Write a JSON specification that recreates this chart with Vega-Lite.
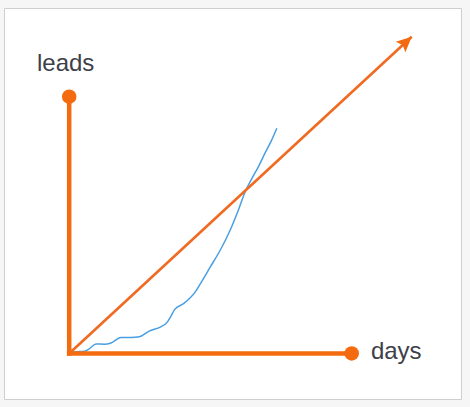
{
  "$schema": "https://vega.github.io/schema/vega-lite/v6.json",
  "width": 457,
  "height": 391,
  "autosize": {"type": "none"},
  "padding": {"left": 4, "top": 8, "right": 9, "bottom": 8},
  "background": "#f6f6f6",
  "view": {"fill": "#ffffff", "stroke": "#cfcfcf", "strokeWidth": 1},
  "datasets": {
    "axes": [
      {"days": 0, "leads": 0, "days_end": 0, "leads_end": 100},
      {"days": 0, "leads": 0, "days_end": 100, "leads_end": 0}
    ],
    "ends": [
      {"days": 0, "leads": 100},
      {"days": 100, "leads": 0}
    ],
    "trend": [
      {"days": 0, "leads": 0, "order": 0},
      {"days": 121.24, "leads": 123.36, "order": 1}
    ],
    "tip": [
      {"days": 121.24, "leads": 123.36}
    ],
    "actual": [
      {"days": 0.3, "leads": 0.2},
      {"days": 1.9, "leads": 0.6},
      {"days": 5.4, "leads": 0.9},
      {"days": 7.2, "leads": 1.9},
      {"days": 9.5, "leads": 3.7},
      {"days": 12.4, "leads": 3.6},
      {"days": 14.8, "leads": 4.1},
      {"days": 18.3, "leads": 6.2},
      {"days": 21.8, "leads": 6.2},
      {"days": 24.8, "leads": 6.5},
      {"days": 28.3, "leads": 8.7},
      {"days": 32.4, "leads": 10.4},
      {"days": 34.8, "leads": 12.3},
      {"days": 35.9, "leads": 14.3},
      {"days": 37.3, "leads": 17.1},
      {"days": 40.6, "leads": 19.5},
      {"days": 44.7, "leads": 24.1},
      {"days": 46.5, "leads": 27.3},
      {"days": 50.0, "leads": 33.8},
      {"days": 53.5, "leads": 40.3},
      {"days": 57.0, "leads": 48.1},
      {"days": 59.9, "leads": 55.9},
      {"days": 62.3, "leads": 63.0},
      {"days": 64.7, "leads": 68.2},
      {"days": 67.0, "leads": 72.8},
      {"days": 69.3, "leads": 78.0},
      {"days": 71.7, "leads": 83.2},
      {"days": 73.5, "leads": 87.7}
    ],
    "labels": [
      {"days": -11.4, "leads": 110.1, "text": "leads"},
      {"days": 106.8, "leads": -2.3, "text": "days"}
    ]
  },
  "encoding": {
    "x": {"field": "days", "type": "quantitative", "scale": {"domain": [-23.08, 138.69], "nice": false, "zero": false}, "axis": null},
    "y": {"field": "leads", "type": "quantitative", "scale": {"domain": [-17.72, 134.54], "nice": false, "zero": false}, "axis": null}
  },
  "layer": [
    {
      "data": {"name": "actual"},
      "mark": {"type": "line", "color": "#4a9fe2", "strokeWidth": 1.5, "interpolate": "monotone"}
    },
    {
      "data": {"name": "trend"},
      "mark": {"type": "line", "color": "#f06a22", "strokeWidth": 2.6},
      "encoding": {"order": {"field": "order", "type": "quantitative"}}
    },
    {
      "data": {"name": "tip"},
      "mark": {"type": "point", "shape": "M0,0L0.75,1.6L0,1.3L-0.75,1.6Z", "size": 360, "angle": 47.2, "filled": true, "opacity": 1, "color": "#f46a0e"}
    },
    {
      "data": {"name": "axes"},
      "mark": {"type": "rule", "color": "#f46a0e", "strokeWidth": 4.5, "strokeCap": "square"},
      "encoding": {
        "x2": {"field": "days_end"},
        "y2": {"field": "leads_end"}
      }
    },
    {
      "data": {"name": "ends"},
      "mark": {"type": "point", "shape": "circle", "size": 210, "filled": true, "opacity": 1, "color": "#f46a0e"}
    },
    {
      "data": {"name": "labels"},
      "mark": {"type": "text", "align": "left", "baseline": "alphabetic", "font": "Liberation Sans", "fontSize": 24, "color": "#3d4047"},
      "encoding": {"text": {"field": "text", "type": "nominal"}}
    }
  ]
}
